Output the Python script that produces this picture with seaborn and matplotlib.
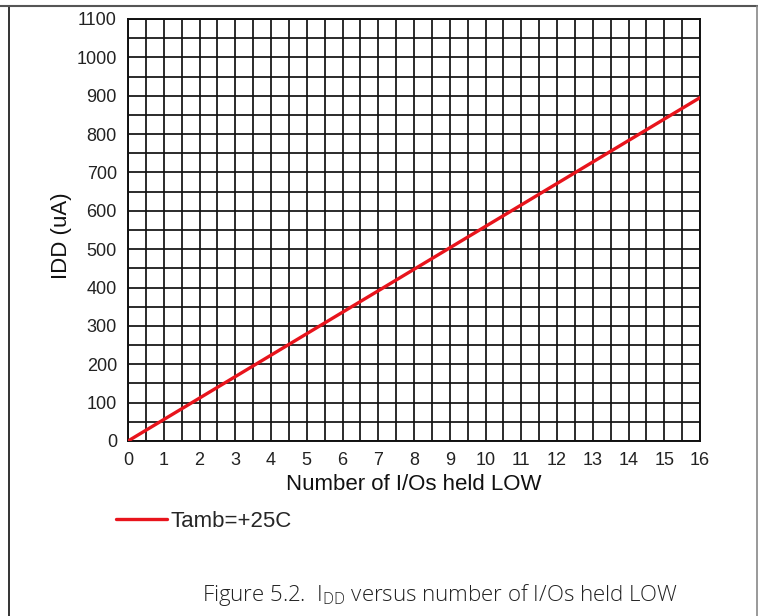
"""IDD versus number of I/Os held LOW."""
import matplotlib
matplotlib.use('Agg')
import matplotlib.pyplot as plt
import numpy as np
import pandas as pd
import seaborn as sns
from matplotlib.lines import Line2D

# data
ios_low = [0, 16]
idd_ua = [0, 895]
series_label = 'Tamb=+25C'

x_ticks = list(range(0, 17))
y_ticks = list(range(0, 1101, 100))

df = pd.DataFrame({'ios': ios_low, 'idd': idd_ua, 'series': series_label})

sns.set_style('white')
plt.rcParams['font.family'] = ['Liberation Sans', 'DejaVu Sans']

fig = plt.figure(figsize=(7.58, 6.16), dpi=100)
ax = fig.add_axes([0.1689, 0.2841, 0.7546, 0.6851])

sns.lineplot(data=df, x='ios', y='idd', hue='series', palette=['#e8141c'],
             linewidth=2.4, ax=ax, legend=False, zorder=5)

ax.set_xlim(0, 16)
ax.set_ylim(0, 1100)
ax.set_xticks(x_ticks)
ax.set_yticks(y_ticks)
ax.set_xticks(np.arange(0, 16.01, 0.5), minor=True)
ax.set_yticks(np.arange(0, 1100.1, 50), minor=True)
ax.grid(which='both', color='#111111', linewidth=1.25)
ax.tick_params(which='both', length=0)
ax.tick_params(axis='x', pad=8, labelsize=13, colors='#222222')
ax.tick_params(axis='y', pad=8, labelsize=13, colors='#222222')
for s in ax.spines.values():
    s.set_color('#111111')
    s.set_linewidth(1.4)

ax.set_xlabel('Number of I/Os held LOW', fontsize=16, color='#111111')
ax.set_ylabel('IDD (uA)', fontsize=16, color='#111111')
ax.xaxis.set_label_coords(0.5, -0.078)
ax.yaxis.set_label_coords(-0.098, 0.486)

# legend below the axis
handle = Line2D([], [], color='#e8141c', linewidth=2.4)
ax.legend([handle], [series_label], loc='center left',
          bbox_to_anchor=(0.153, 0.154), bbox_transform=fig.transFigure,
          frameon=False, fontsize=16, handlelength=2.3, handletextpad=0.15,
          borderpad=0, borderaxespad=0)

# caption
fig.text(0.581, 0.034, 'Figure 5.2.  I$_{\\mathregular{DD}}$ versus number of I/Os held LOW',
         ha='center', va='center', fontsize=16, color='#222222',
         family=['Open Sans', 'DejaVu Sans'], fontweight='light')

# page border lines
fig.add_artist(Line2D([9 / 758, 9 / 758], [0, 1 - 6 / 616], color='#111111', linewidth=1.2))
fig.add_artist(Line2D([0, 1], [1 - 6 / 616, 1 - 6 / 616], color='#555555', linewidth=1.5))
fig.add_artist(Line2D([756.5 / 758, 756.5 / 758], [0, 1 - 6 / 616], color='#888888', linewidth=1.2))

fig.savefig('out.png', dpi=100)
